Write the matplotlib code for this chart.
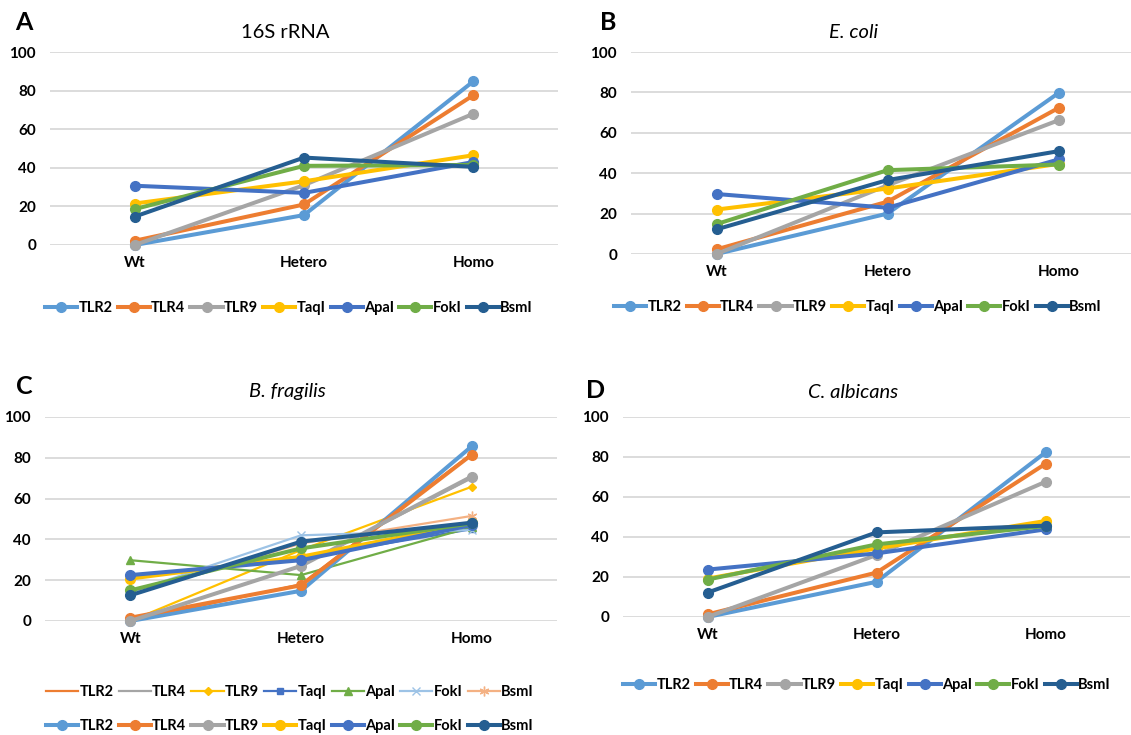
import matplotlib
matplotlib.use("Agg")
import matplotlib.pyplot as plt
from matplotlib.lines import Line2D

plt.rcParams["font.family"] = ["Lato", "DejaVu Sans"]

categories = ["Wt", "Hetero", "Homo"]
series = ["TLR2", "TLR4", "TLR9", "TaqI", "ApaI", "FokI", "BsmI"]
colors = ["#5B9BD5", "#ED7D31", "#A5A5A5", "#FFC000", "#4472C4", "#70AD47", "#255E91"]

# values, one row per series (Wt, Hetero, Homo)
rrna_16s = [[0, 15.5, 84.8], [2.2, 21, 77.6], [0, 31, 68], [21.5, 33, 46.5],
            [30.7, 27, 43], [18.6, 41, 41.5], [14.7, 45.3, 40.5]]
e_coli = [[0, 20, 79.7], [2.3, 25.9, 72.3], [0, 34, 66.2], [22, 32.4, 44.6],
          [29.7, 22.9, 46.8], [14.8, 41.5, 44.3], [12.2, 36.6, 50.9]]
b_fragilis = [[0, 14.8, 85.6], [1.6, 17.5, 81.5], [0, 27, 70.8], [20.8, 31.5, 47.9],
              [22.5, 29.8, 47], [15, 35.6, 47.9], [12.6, 38.9, 48.2]]
b_fragilis_thin = [[0, 18, 82], [0, 27, 70], [0, 34.8, 65.8], [22, 31, 45],
                   [29.8, 22.5, 46], [14, 42, 44.6], [13, 38, 51.5]]
c_albicans = [[0, 17.6, 82.3], [1.3, 22.2, 76.6], [0, 31, 67.6], [19.2, 34.3, 48],
              [23.7, 31.8, 43.8], [18.7, 36.3, 45.5], [12.2, 42.3, 45.7]]

thin_colors = ["#ED7D31", "#A5A5A5", "#FFC000", "#4472C4", "#70AD47", "#9DC3E6", "#F4B183"]
thin_markers = ["None", "None", "D", "s", "^", "x", (6, 2, 0)]
thin_sizes = [0, 0, 4.5, 5, 5.5, 6, 7]

W, H = 1131, 735
fig = plt.figure(figsize=(W / 100, H / 100), dpi=100)


def make_ax(left, right, y0, y100):
    ax = fig.add_axes([left / W, 1 - y0 / H, (right - left) / W, (y0 - y100) / H])
    ax.set_xlim(-0.5, 2.5)
    ax.set_ylim(0, 100)
    ax.set_yticks(range(0, 101, 20))
    ax.set_xticks(range(len(categories)))
    ax.set_xticklabels(categories)
    ax.grid(axis="y", color="#D9D9D9", lw=1.3)
    ax.set_axisbelow(True)
    for s in ax.spines.values():
        s.set_visible(False)
    ax.tick_params(length=0, labelsize=11)
    ax.tick_params(axis="y", pad=10)
    ax.tick_params(axis="x", pad=8)
    for lab in ax.get_xticklabels() + ax.get_yticklabels():
        lab.set_fontweight("bold")
    return ax


def draw_thick(ax, data):
    for vals, c in zip(data, colors):
        ax.plot(range(len(categories)), vals, color=c, lw=2.9, marker="o",
                markersize=7, clip_on=False)


def thick_handles():
    return [Line2D([], [], color=c, lw=2.9, marker="o", markersize=7) for c in colors]


def add_legend(handles, cx, cy):
    fig.legend(handles, series, loc="center", bbox_to_anchor=(cx / W, 1 - cy / H),
               ncol=7, frameon=False, handlelength=2.2, handletextpad=0.1,
               columnspacing=0.35, prop={"weight": "bold", "size": 10.5})


panels = [
    ("A", "16S rRNA", "normal", rrna_16s, (50, 558, 245, 52), (24, 22), (285, 33), (289, 308)),
    ("B", "E. coli", "italic", e_coli, (631, 1144, 254, 52), (608, 23), (854, 32), (858, 307)),
    ("C", "B. fragilis", "italic", b_fragilis, (45, 557, 621, 417), (24, 387), (287, 392), (290, 726)),
    ("D", "C. albicans", "italic", c_albicans, (623, 1130, 617, 417), (596, 390), (853, 392), (867, 685)),
]

for letter, title, style, data, box, lpos, tpos, legpos in panels:
    ax = make_ax(*box)
    if letter == "C":
        for vals, c, m, ms in zip(b_fragilis_thin, thin_colors, thin_markers, thin_sizes):
            ax.plot(range(len(categories)), vals, color=c, lw=1.6, marker=m,
                    markersize=ms, clip_on=False)
    draw_thick(ax, data)
    fig.text(lpos[0] / W, 1 - lpos[1] / H, letter, fontsize=18, fontweight="bold",
             ha="center", va="center")
    fig.text(tpos[0] / W, 1 - tpos[1] / H, title, fontsize=14.5, style=style,
             ha="center", va="center")
    add_legend(thick_handles(), *legpos)

thin_handles = [Line2D([], [], color=c, lw=1.6, marker=m, markersize=ms)
                for c, m, ms in zip(thin_colors, thin_markers, thin_sizes)]
add_legend(thin_handles, 290, 692)

fig.savefig("out.png", dpi=100)
